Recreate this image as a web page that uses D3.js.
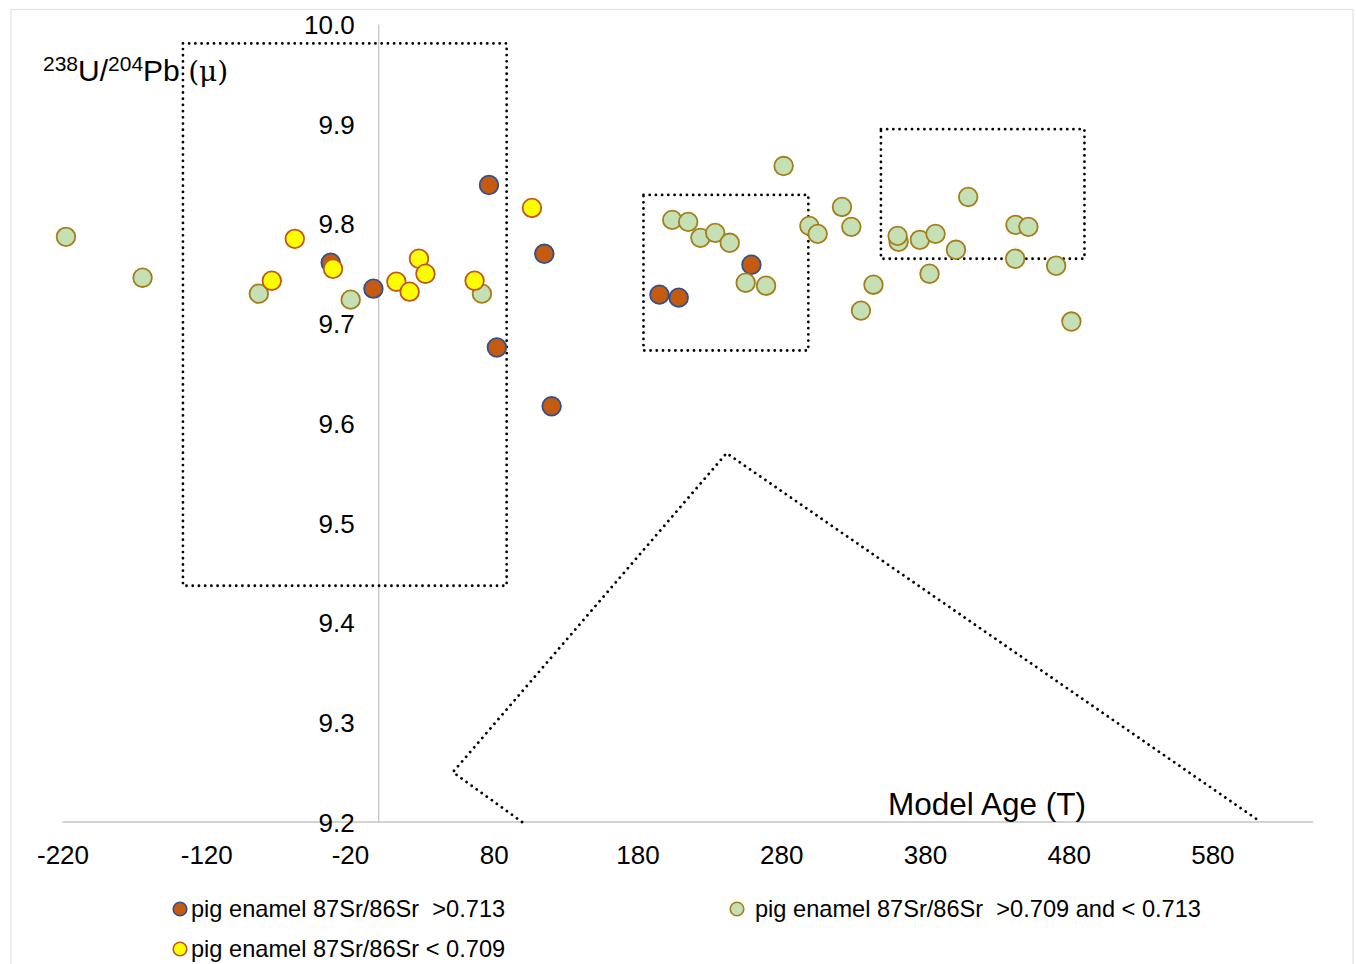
<!DOCTYPE html>
<html>
<head>
<meta charset="utf-8">
<script src="https://cdn.jsdelivr.net/npm/d3@7"></script>
<style>
  html, body { margin: 0; padding: 0; background: #fff; }
  svg { display: block; font-family: "Liberation Sans", Arial, sans-serif; }
  text { white-space: pre; }
</style>
</head>
<body>
<svg id="chart" width="1356" height="964"></svg>
<script>
// ---- data ----
const seriesNames = [
  "pig enamel 87Sr/86Sr  >0.713",
  "pig enamel 87Sr/86Sr  >0.709 and < 0.713",
  "pig enamel 87Sr/86Sr < 0.709"
];
const orangeX = [-33.4, -3.7, 76.7, 82.2, 115.2, 120.3, 195.3, 208.7, 259.3];
const orangeY = [9.761, 9.735, 9.839, 9.676, 9.770, 9.617, 9.729, 9.726, 9.759];
const greenX = [-217.6, -164.3, -83.4, -19.5, 71.8, 204.2, 215.3, 223.8, 234.1, 244.2,
  255.3, 269.5, 281.7, 299.6, 305.4, 322.3, 328.8, 335.5, 344.2, 361.7,
  361.0, 376.5, 383.2, 387.4, 401.6, 410.1, 443.0, 442.8, 452.0, 471.3, 481.9];
const greenY = [9.787, 9.746, 9.730, 9.724, 9.730, 9.804, 9.802, 9.786, 9.791, 9.781,
  9.741, 9.738, 9.858, 9.798, 9.790, 9.817, 9.797, 9.713, 9.739, 9.782,
  9.788, 9.784, 9.750, 9.790, 9.774, 9.827, 9.799, 9.765, 9.797, 9.758, 9.702];
const yellowX = [-74.4, -58.4, -31.8, 12.3, 21.5, 28.0, 32.5, 66.7, 106.6];
const yellowY = [9.743, 9.785, 9.755, 9.742, 9.732, 9.765, 9.750, 9.743, 9.816];

const xTicks = [-220, -120, -20, 80, 180, 280, 380, 480, 580];
const yTicks = [9.2, 9.3, 9.4, 9.5, 9.6, 9.7, 9.8, 9.9, 10.0];

// dotted annotation shapes (data coordinates)
const box1 = [[-136.2, 9.981], [89.0, 9.437]];
const box2 = [[184.2, 9.829], [298.9, 9.673]];
const box3 = [[349.4, 9.895], [491.0, 9.765]];
const wedge = [[99.7, 9.2], [51.6, 9.25], [242.0, 9.570], [613.7, 9.2]];

// ---- drawing ----
const svg = d3.select("#chart");
const x = d3.scaleLinear().domain([-220, 650]).range([62.5, 1313]);
const y = d3.scaleLinear().domain([9.2, 10.0]).range([822, 24.5]);

// chart frame
svg.append("rect").attr("x", 11).attr("y", 9.5).attr("width", 1342).attr("height", 980)
  .attr("fill", "#fff").attr("stroke", "#e2e2e2").attr("stroke-width", 1.2);

// axes lines
const axisColor = "#c4c4c4";
svg.append("line").attr("x1", x(-220)).attr("x2", x(650)).attr("y1", y(9.2)).attr("y2", y(9.2))
  .attr("stroke", axisColor).attr("stroke-width", 1.3);
svg.append("line").attr("x1", x(0)).attr("x2", x(0)).attr("y1", y(10.0)).attr("y2", y(9.2))
  .attr("stroke", axisColor).attr("stroke-width", 1.3);

// x tick labels via axis
const xAxis = d3.axisBottom(x).tickValues(xTicks).tickSize(0).tickPadding(0).tickFormat(d => String(d));
const gx = svg.append("g").attr("transform", `translate(0,${y(9.2) + 33})`).call(xAxis);
gx.select(".domain").remove();
gx.selectAll("text").attr("font-size", 26).attr("fill", "#000")
  .attr("font-family", "Liberation Sans, Arial, sans-serif").attr("dy", "0.35em");

// y tick labels via axis
const yAxis = d3.axisLeft(y).tickValues(yTicks).tickSize(0).tickPadding(0).tickFormat(d3.format(".1f"));
const gy = svg.append("g").attr("transform", `translate(${x(0) - 24},0)`).call(yAxis);
gy.select(".domain").remove();
gy.selectAll("text").attr("font-size", 26).attr("fill", "#000")
  .attr("font-family", "Liberation Sans, Arial, sans-serif").attr("dy", "0.35em");

// dotted shapes
const dotted = sel => sel.attr("fill", "none").attr("stroke", "#000").attr("stroke-width", 2.8)
  .attr("stroke-linecap", "round").attr("stroke-dasharray", "0.01 6.2");
[box1, box2, box3].forEach(b => {
  svg.append("rect")
    .attr("x", x(b[0][0])).attr("y", y(b[0][1]))
    .attr("width", x(b[1][0]) - x(b[0][0])).attr("height", y(b[1][1]) - y(b[0][1]))
    .call(dotted);
});
svg.append("path").attr("d", d3.line().x(d => x(d[0])).y(d => y(d[1]))(wedge)).call(dotted);

// axis titles
const ylab = svg.append("text").attr("x", 43).attr("y", 81).attr("fill", "#000");
ylab.append("tspan").attr("font-size", 21).attr("dy", -10).text("238");
ylab.append("tspan").attr("font-size", 30).attr("dy", 10).text("U/");
ylab.append("tspan").attr("font-size", 21).attr("dy", -10).text("204");
ylab.append("tspan").attr("font-size", 30).attr("dy", 10).text("Pb ");
ylab.append("tspan").attr("font-size", 28).attr("font-family", "DejaVu Serif, serif").text("(μ)");

svg.append("text").attr("x", 987).attr("y", 815).attr("text-anchor", "middle")
  .attr("font-size", 31.5).attr("fill", "#000").text("Model Age (T)");

// series markers
const styles = [
  { fill: "#c55a11", stroke: "#2f528f" },
  { fill: "#c5e0b4", stroke: "#a47e1b" },
  { fill: "#ffff00", stroke: "#c0581a" }
];
const seriesData = [
  d3.zip(orangeX, orangeY),
  d3.zip(greenX, greenY),
  d3.zip(yellowX, yellowY)
];
seriesData.forEach((pts, i) => {
  svg.append("g").selectAll("circle").data(pts).join("circle")
    .attr("cx", d => x(d[0])).attr("cy", d => y(d[1])).attr("r", 9.3)
    .attr("fill", styles[i].fill).attr("stroke", styles[i].stroke).attr("stroke-width", 1.8);
});

// legend
const legendPos = [[180, 909], [737, 909], [180, 949]];
seriesNames.forEach((name, i) => {
  const [lx, ly] = legendPos[i];
  svg.append("circle").attr("cx", lx).attr("cy", ly).attr("r", 6.8)
    .attr("fill", styles[i].fill).attr("stroke", styles[i].stroke).attr("stroke-width", 1.6);
  svg.append("text").attr("x", lx + (i === 1 ? 18 : 11)).attr("y", ly + 8)
    .attr("font-size", 23.6).attr("fill", "#000").text(name);
});
</script>
</body>
</html>
